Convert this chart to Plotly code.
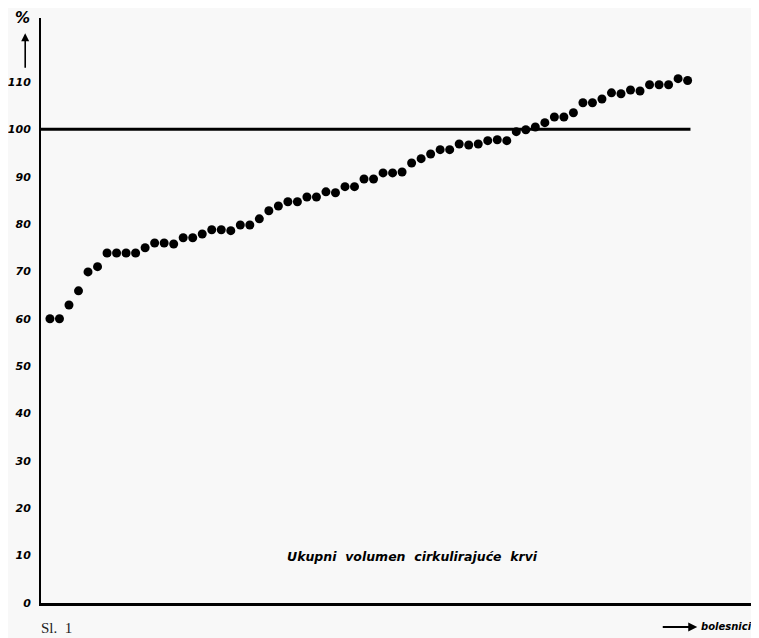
import plotly.graph_objects as go

# Data (patients sorted by total circulating blood volume, % of norm)
patients = list(range(1, 69))
volume_pct = [60.0, 60.0, 62.9, 65.9, 69.9, 71.0, 73.9, 73.9, 73.9, 73.9,
              75.0, 76.0, 76.0, 75.8, 77.1, 77.1, 77.9, 78.8, 78.8, 78.6,
              79.8, 79.8, 81.1, 82.8, 83.8, 84.7, 84.7, 85.7, 85.7, 86.8,
              86.6, 87.9, 87.9, 89.5, 89.5, 90.8, 90.8, 91.0, 92.9, 93.8,
              94.8, 95.7, 95.7, 96.9, 96.7, 96.9, 97.6, 97.8, 97.6, 99.5,
              99.9, 100.5, 101.4, 102.6, 102.6, 103.5, 105.6, 105.6, 106.4, 107.7,
              107.5, 108.3, 108.1, 109.4, 109.4, 109.4, 110.7, 110.3]
y_ticks = [0, 10, 20, 30, 40, 50, 60, 70, 80, 90, 100, 110]
reference_level = 100
reference_end = 68.3
x_range = [0.06, 75.5]
y_range = [0, 123.5]

tick_font = dict(family="DejaVu Sans", size=11, color="black", weight="bold", style="italic")
bg = "#f8f8f8"

fig = go.Figure()
fig.add_trace(go.Scatter(
    x=patients, y=volume_pct, mode="markers",
    marker=dict(color="black", size=9, line=dict(width=0)),
    showlegend=False, hoverinfo="skip"))

fig.add_shape(type="line", xref="x", yref="y",
              x0=x_range[0], x1=reference_end, y0=reference_level, y1=reference_level,
              line=dict(color="black", width=3))

fig.update_xaxes(range=x_range, showgrid=False, zeroline=False, showticklabels=False,
                 ticks="", showline=True, linecolor="black", linewidth=2.5)
fig.update_yaxes(range=y_range, showgrid=False, zeroline=False, tickvals=y_ticks,
                 ticktext=[str(v) for v in y_ticks], ticks="", tickfont=tick_font,
                 ticklabelstandoff=6, showline=True, linecolor="black", linewidth=2)

annots = [
    dict(text="%", x=-0.026, y=1.0, xref="paper", yref="paper", showarrow=False,
         xanchor="center", yanchor="middle",
         font=dict(family="DejaVu Sans", size=15, color="black", weight="bold", style="italic")),
    dict(text="", x=-0.022, y=0.974, xref="paper", yref="paper", showarrow=True,
         ax=0, ay=36, arrowhead=2, arrowsize=1, arrowwidth=1.6, arrowcolor="black"),
    dict(text="Ukupni  volumen  cirkulirajuće  krvi", x=0.518, y=0.080, xref="paper", yref="paper",
         xanchor="center", yanchor="middle",
         showarrow=False, font=dict(family="DejaVu Sans", size=12.5, color="black", weight="bold", style="italic")),
    dict(text="Sl.  1", x=-0.003, y=-0.043, xref="paper", yref="paper", xanchor="left", yanchor="middle",
         showarrow=False, font=dict(family="Liberation Serif", size=15, color="#222")),
    dict(text="", x=0.914, y=-0.041, xref="paper", yref="paper", showarrow=True,
         ax=-36, ay=0, arrowhead=2, arrowsize=0.9, arrowwidth=2, arrowcolor="black"),
    dict(text="bolesnici", x=0.916, y=-0.041, xref="paper", yref="paper", xanchor="left", yanchor="middle",
         showarrow=False, font=dict(family="DejaVu Sans", size=10, color="black", weight="bold", style="italic")),
]
# the page body adds an 8px margin, so the figure is 8px smaller and its top/left margins 8px shorter
fig.update_layout(
    width=751, height=630,
    margin=dict(l=29, r=0, t=10, b=35),
    paper_bgcolor=bg, plot_bgcolor=bg,
    annotations=annots,
)
fig.write_html("out.html")
